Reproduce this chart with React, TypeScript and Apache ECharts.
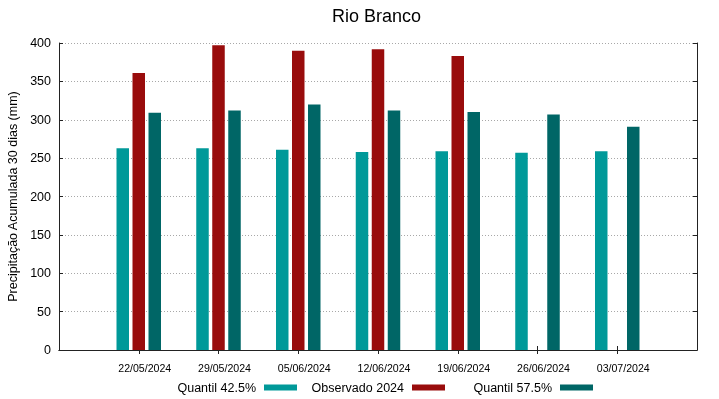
import React, { useEffect, useRef } from "react";
import * as echarts from "echarts";

const dates = ["22/05/2024", "29/05/2024", "05/06/2024", "12/06/2024", "19/06/2024", "26/06/2024", "03/07/2024"];
const quantil425 = [263, 263, 261, 258, 259, 257, 259];
const observado2024 = [361, 397, 390, 392, 383, null, null];
const quantil575 = [309, 312, 320, 312, 310, 307, 291];
const yTicks = { min: 0, max: 400, interval: 50 };

const FONT = "Liberation Sans, Arial, sans-serif";

export default function App() {
  const ref = useRef<HTMLDivElement>(null);
  useEffect(() => {
    if (!ref.current) return;
    const chart = echarts.init(ref.current, undefined, { renderer: "svg" });
    const cats = ["", ...dates, ""];
    const pad = (arr: (number | null)[]) => [null, ...arr, null];
    const axisLine = { show: true, lineStyle: { color: "#222", width: 1 } };
    const tickInterval = (i: number) => i > 0 && i < cats.length - 1;
    const legendBase = {
      top: 381,
      padding: 0,
      align: "right",
      icon: "rect",
      itemWidth: 33,
      itemHeight: 6,
      textStyle: { fontSize: 12.5, color: "#000", fontFamily: FONT, padding: [0, 3, 0, 0] },
    };
    chart.setOption({
      animation: false,
      textStyle: { fontFamily: FONT },
      title: {
        text: "Rio Branco",
        left: 332,
        top: 7,
        padding: 0,
        textStyle: { fontSize: 18, fontWeight: "normal", color: "#000", fontFamily: FONT },
      },
      grid: { left: 59, right: 22, top: 43, bottom: 49, containLabel: false, outerBoundsMode: "none" },
      legend: [
        { ...legendBase, data: ["Quantil 42.5%"], right: 719 - 297 },
        { ...legendBase, data: ["Observado 2024"], right: 719 - 445 },
        { ...legendBase, data: ["Quantil 57.5%"], right: 719 - 593 },
      ],
      xAxis: [
        {
          type: "category",
          data: cats,
          boundaryGap: false,
          position: "bottom",
          axisLine,
          axisTick: { show: true, inside: true, length: 4, interval: tickInterval, lineStyle: { color: "#222" } },
          axisLabel: {
            interval: 0,
            fontSize: 10.6,
            color: "#000",
            margin: 12,
            fontFamily: FONT,
            padding: [0, 0, 0, 12],
          },
          splitLine: { show: false },
        },
        {
          type: "category",
          data: cats,
          boundaryGap: false,
          position: "top",
          axisLine,
          axisTick: { show: true, inside: true, length: 4, interval: tickInterval, lineStyle: { color: "#222" } },
          axisLabel: { show: false },
          splitLine: { show: false },
        },
      ],
      yAxis: [
        {
          type: "value",
          min: yTicks.min,
          max: yTicks.max,
          interval: yTicks.interval,
          position: "left",
          name: "Precipitação Acumulada 30 dias (mm)",
          nameLocation: "middle",
          nameGap: 33,
          nameTextStyle: { fontSize: 12.5, color: "#000", fontFamily: FONT },
          axisLine,
          axisTick: { show: true, inside: true, length: 4, lineStyle: { color: "#222" } },
          axisLabel: { fontSize: 12.5, color: "#000", margin: 8, fontFamily: FONT },
          splitLine: {
            show: true,
            lineStyle: { color: "#a8a8a8", type: [1, 2], width: 1 },
          },
        },
        {
          type: "value",
          min: yTicks.min,
          max: yTicks.max,
          interval: yTicks.interval,
          position: "right",
          axisLine,
          axisTick: { show: true, inside: true, length: 4, lineStyle: { color: "#222" } },
          axisLabel: { show: false },
          splitLine: { show: false },
        },
      ],
      series: [
        {
          name: "Quantil 42.5%",
          type: "bar",
          data: pad(quantil425),
          barWidth: 12.5,
          barGap: "28%",
          itemStyle: { color: "#009999" },
        },
        {
          name: "Observado 2024",
          type: "bar",
          data: pad(observado2024),
          barWidth: 12.5,
          barGap: "28%",
          itemStyle: { color: "#990c0c" },
        },
        {
          name: "Quantil 57.5%",
          type: "bar",
          data: pad(quantil575),
          barWidth: 12.5,
          barGap: "28%",
          itemStyle: { color: "#006666" },
        },
      ],
    });
    return () => chart.dispose();
  }, []);
  return <div ref={ref} style={{ width: 719, height: 399, position: "fixed", left: 0, top: 0 }} />;
}
